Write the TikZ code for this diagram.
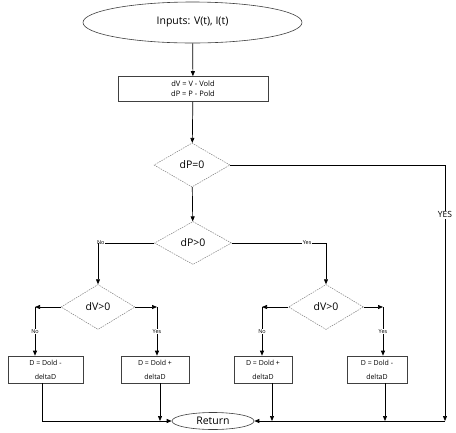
\documentclass[tikz,border=0pt]{standalone}
\usepackage{fontspec}
\setmainfont{Open Sans}
\usetikzlibrary{shapes.geometric,arrows.meta}
\begin{document}
\begin{tikzpicture}[x=1pt,y=-1pt,
  line width=0.7pt,
  arr/.style={-{Triangle[length=5pt,width=4pt]}},
  ell/.style={ellipse,draw=black!75,line width=0.6pt,inner sep=0pt},
  box/.style={rectangle,draw=black!75,line width=0.6pt,inner sep=1pt,align=center},
  dia/.style={diamond,draw=black!50,line width=0.5pt,dash pattern=on 1.5pt off 1pt,inner sep=0pt,font=\fontsize{10.5}{12}\selectfont},
  lab/.style={fill=white,inner sep=0.5pt,font=\fontsize{5.5}{6}\selectfont},
  txt/.style={font=\fontsize{7}{14}\selectfont}
]
\useasboundingbox (0,0) rectangle (456,432);
\fill[white] (0,0) rectangle (456,432);

\node[ell,minimum width=219pt,minimum height=41pt,font=\fontsize{10.5}{12}\selectfont] (in) at (192.5,22.5) {Inputs: V(t), I(t)};
\node[box,minimum width=150pt,minimum height=25pt,font=\fontsize{7.5}{10}\selectfont] (calc) at (193,89) {dV = V - Vold\\dP = P - Pold};

\node[dia,minimum width=76pt,minimum height=44pt] (d0) at (192,165) {dP=0};
\node[dia,minimum width=77pt,minimum height=43pt] (d1) at (193,243) {dP>0};
\node[dia,minimum width=74pt,minimum height=45pt] (dL) at (98,307) {dV>0};
\node[dia,minimum width=75pt,minimum height=45pt] (dR) at (326,307) {dV>0};

\node[box,txt,minimum width=75pt,minimum height=27pt] (b1) at (45.5,369.5) {D = Dold -\\deltaD};
\node[box,txt,minimum width=68pt,minimum height=27pt] (b2) at (155,369.5) {D = Dold +\\deltaD};
\node[box,txt,minimum width=58pt,minimum height=27pt] (b3) at (263,369.5) {D = Dold +\\deltaD};
\node[box,txt,minimum width=60pt,minimum height=27pt] (b4) at (377,369.5) {D = Dold -\\deltaD};

\node[ell,minimum width=82pt,minimum height=17pt,font=\fontsize{10.5}{12}\selectfont] (ret) at (213,421) {Return};

% main flow
\draw[arr] (in) -- (calc);
\draw[arr] (calc) -- (d0);
\draw[arr] (d0) -- (d1);

% YES branch of dP=0
\coordinate (cY) at (445,165);
\draw (d0.east) -- (cY);
\coordinate (cYb) at (cY |- ret.east);
\draw[arr] (cY) -- (cYb) node[pos=0.195,fill=white,inner sep=0.5pt,font=\fontsize{8.5}{10}\selectfont] {YES};
\draw[arr] (cYb) -- (ret.east);

% dP>0 branches
\coordinate (cN) at (98,243);
\draw (d1.west) -- (cN) node[lab,pos=0.95] {No};
\draw[arr] (cN) -- (dL.north);
\coordinate (cS) at (326,243);
\draw (d1.east) -- (cS) node[lab,pos=0.8] {Yes};
\draw[arr] (cS) -- (dR.north);

% left dV>0
\coordinate (l1) at (35,307);
\coordinate (l2) at (157,307);
\draw[arr] (dL.west) -- (l1);
\draw[arr] (dL.east) -- (l2);
\draw[arr] (l1) -- (l1 |- b1.north) node[lab,midway] {No};
\draw[arr] (l2) -- (l2 |- b2.north) node[lab,midway] {Yes};

% right dV>0
\coordinate (r1) at (262,307);
\coordinate (r2) at (383,307);
\draw[arr] (dR.west) -- (r1);
\draw[arr] (dR.east) -- (r2);
\draw[arr] (r1) -- (r1 |- b3.north) node[lab,midway] {No};
\draw[arr] (r2) -- (r2 |- b4.north) node[lab,midway] {Yes};

% to return
\coordinate (o1) at (42,383);
\coordinate (o2) at (160,383);
\coordinate (o3) at (272,383);
\coordinate (o4) at (385,383);
\draw[arr] (o1) |- (ret.west);
\draw[arr] (o2) -- (o2 |- ret.west);
\draw[arr] (o3) -- (o3 |- ret.east);
\draw[arr] (o4) -- (o4 |- ret.east);
\end{tikzpicture}
\end{document}
